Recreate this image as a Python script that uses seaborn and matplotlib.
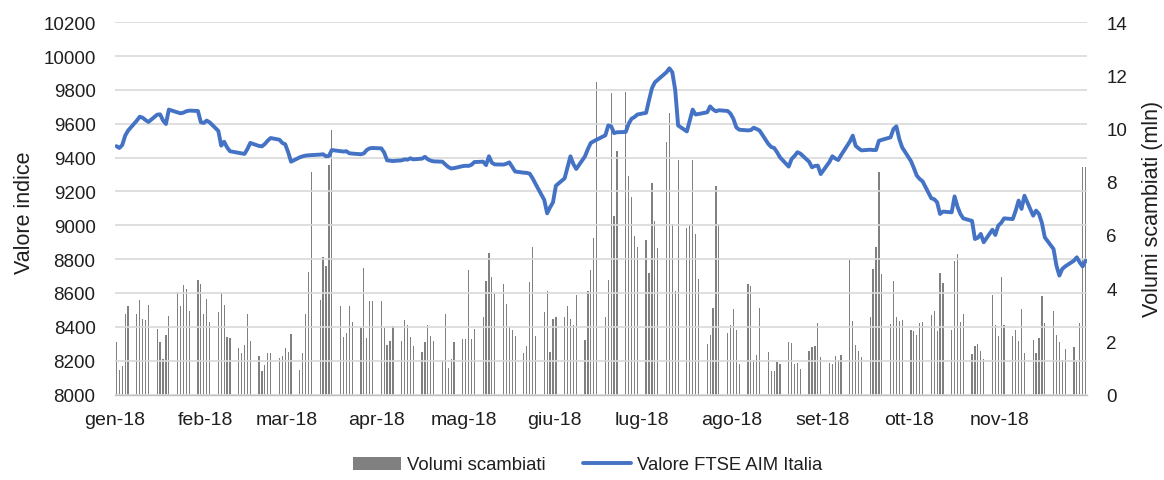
import numpy as np
import pandas as pd
import matplotlib
matplotlib.use("Agg")
import matplotlib.pyplot as plt
import matplotlib.dates as mdates
from matplotlib.patches import Patch
from matplotlib.lines import Line2D
import seaborn as sns

# ---------------- data ----------------
month_labels = ["gen-18", "feb-18", "mar-18", "apr-18", "mag-18", "giu-18",
                "lug-18", "ago-18", "set-18", "ott-18", "nov-18"]

# trading days (Mon-Fri) from 1 Jan to 30 Nov 2018
dates = pd.bdate_range("2018-01-01", "2018-11-30")

vol_jan = [1.96, 0.93, 1.06, 3.04, 3.34, 3.02, 3.54, 2.83, 2.79, 3.38, 2.46, 1.96,
           1.34, 2.24, 2.94, 3.87, 3.32, 4.13, 3.96, 3.13, 4.32, 4.14, 3.02]
vol_feb = [3.58, 2.73, 3.10, 3.80, 3.37, 2.18, 2.14, 1.74, 1.56, 1.86, 3.02, 2.00,
           1.46, 0.90, 1.11, 1.56, 1.57, 1.36, 1.45, 1.74]
vol_mar = [1.61, 2.26, 0.93, 1.55, 3.02, 4.59, 8.36, 3.57, 5.17, 4.85, 8.64, 9.96,
           3.33, 2.18, 2.31, 3.34, 2.74, 2.50, 4.75, 2.13, 3.50, 3.50]
vol_apr = [3.50, 2.50, 1.86, 2.01, 2.58, 2.01, 2.80, 2.61, 2.18, 1.81, 1.59, 1.99,
           2.61, 2.19, 2.01, 1.27, 3.03, 1.00, 1.34, 1.96, 2.09]
vol_may = [2.09, 4.70, 2.07, 2.46, 2.90, 4.27, 5.31, 4.42, 3.79, 4.14, 3.39, 2.53,
           2.44, 2.19, 1.55, 1.84, 4.22, 5.54, 2.21, 3.09, 3.89, 1.59, 2.84]
vol_jun = [2.93, 2.90, 3.34, 2.84, 2.61, 3.74, 2.05, 3.89, 4.70, 5.87, 11.77, 2.90,
           4.31, 11.34, 6.70, 9.16, 11.38, 8.23, 7.43, 5.96, 5.55]
vol_jul = [5.81, 4.57, 7.97, 6.53, 5.52, 9.48, 10.57, 6.41, 3.89, 8.82, 6.26, 6.36,
           8.82, 6.02, 4.34, 1.91, 2.24, 3.25, 7.85, 6.40, 2.31, 2.61]
vol_aug = [3.22, 2.43, 1.15, 4.14, 4.09, 1.30, 1.49, 3.25, 1.61, 0.90, 0.90, 1.21,
           1.13, 1.99, 1.94, 1.13, 1.18, 0.96, 1.65, 1.77, 1.81, 2.69, 1.42]
vol_sep = [1.18, 1.15, 1.46, 1.31, 1.49, 5.07, 2.76, 1.86, 1.64, 1.41, 2.91, 4.72,
           5.54, 8.38, 4.54, 2.65, 4.28, 2.91, 2.76, 2.80]
vol_oct = [2.43, 2.40, 2.24, 2.69, 2.71, 2.99, 3.13, 2.39, 4.57, 4.18, 2.43, 5.01,
           5.28, 2.73, 3.02, 1.52, 1.84, 1.89, 1.62, 1.34, 3.75, 2.61, 2.21]
vol_nov = [4.42, 2.61, 2.21, 2.44, 2.00, 3.23, 1.55, 2.06, 1.55, 2.11, 3.72, 2.69,
           3.13, 2.25, 1.96, 1.29, 1.70, 1.77, 1.21, 2.70, 8.56, 8.56]

idx_jan = [9468, 9457, 9475, 9530, 9560, 9619, 9642, 9636, 9622, 9611, 9654, 9656,
           9620, 9599, 9684, 9668, 9662, 9666, 9674, 9678, 9676, 9609, 9605]
idx_feb = [9619, 9609, 9558, 9471, 9494, 9461, 9438, 9428, 9424, 9422, 9451, 9487,
           9469, 9467, 9481, 9501, 9516, 9506, 9487, 9479]
idx_mar = [9432, 9376, 9402, 9408, 9412, 9414, 9415, 9418, 9420, 9408, 9410, 9445,
           9438, 9436, 9438, 9426, 9424, 9420, 9425, 9445, 9455, 9457]
idx_apr = [9455, 9430, 9384, 9382, 9380, 9384, 9390, 9388, 9396, 9390, 9394, 9405,
           9390, 9382, 9378, 9376, 9360, 9345, 9336, 9338, 9350]
idx_may = [9352, 9351, 9358, 9374, 9376, 9356, 9408, 9370, 9360, 9359, 9364, 9372,
           9345, 9318, 9311, 9310, 9305, 9278, 9245, 9150, 9071, 9106, 9136]
idx_jun = [9234, 9278, 9343, 9408, 9362, 9333, 9408, 9451, 9487, 9497, 9506, 9532,
           9590, 9585, 9545, 9550, 9552, 9600, 9630, 9640, 9655]
idx_jul = [9665, 9740, 9810, 9845, 9860, 9905, 9928, 9905, 9800, 9590, 9555, 9620,
           9684, 9655, 9658, 9668, 9703, 9685, 9674, 9680, 9676, 9660]
idx_aug = [9629, 9579, 9565, 9561, 9563, 9577, 9569, 9560, 9481, 9463, 9457, 9432,
           9402, 9347, 9392, 9410, 9432, 9424, 9376, 9343, 9351, 9353, 9303]
idx_sep = [9375, 9408, 9395, 9386, 9415, 9495, 9530, 9470, 9455, 9443, 9447, 9445,
           9445, 9500, 9505, 9520, 9569, 9585, 9510, 9460]
idx_oct = [9380, 9339, 9294, 9274, 9260, 9160, 9154, 9136, 9067, 9081, 9077, 9171,
           9110, 9067, 9041, 9026, 8919, 8927, 8949, 8900, 8974, 8943, 8998]
idx_nov = [9014, 9041, 9037, 9087, 9146, 9097, 9175, 9057, 9087, 9067, 9014, 8929,
           8860, 8762, 8703, 8742, 8757, 8791, 8811, 8781, 8757, 8791]

volumes = (vol_jan + vol_feb + vol_mar + vol_apr + vol_may + vol_jun + vol_jul +
           vol_aug + vol_sep + vol_oct + vol_nov)
index_values = (idx_jan + idx_feb + idx_mar + idx_apr + idx_may + idx_jun + idx_jul +
                idx_aug + idx_sep + idx_oct + idx_nov)

# Excel date axis draws each day in the middle of its slot
xpos = mdates.date2num(dates) + 0.5
df = pd.DataFrame({"x": xpos, "vol": volumes, "idx": index_values})

# ---------------- styling ----------------
sns.set_theme(style="white")
plt.rcParams["font.family"] = ["Liberation Sans", "DejaVu Sans"]
TXT = "#1f1f1f"
BAR = "#808080"
LINE = "#4472C4"
GRID = "#d9d9d9"

fig = plt.figure(figsize=(11.64, 4.81), dpi=100)
ax_bar = fig.add_axes([115 / 1164, 85.5 / 481, 972 / 1164, 372.2 / 481])
ax_line = ax_bar.twinx()

sns.barplot(data=df, x="x", y="vol", native_scale=True, orient="x", width=0.42,
            color=BAR, saturation=1, errorbar=None, linewidth=0, ax=ax_bar)
sns.lineplot(data=df, x="x", y="idx", color=LINE, linewidth=2.8, legend=False,
             ax=ax_line)

# axes ranges / ticks
month_starts = mdates.date2num(pd.date_range("2018-01-01", "2018-12-01", freq="MS"))
ax_bar.set_xlim(month_starts[0], month_starts[-1])
ax_bar.set_xticks(month_starts, month_labels + [""])
ax_bar.set_ylim(0, 14)
ax_bar.set_yticks(np.arange(0, 15, 2))
ax_line.set_ylim(8000, 10200)
ax_line.set_yticks(np.arange(8000, 10201, 200))

# sides: index on the left, volumes on the right
ax_line.yaxis.tick_left()
ax_line.yaxis.set_label_position("left")
ax_bar.yaxis.tick_right()
ax_bar.yaxis.set_label_position("right")

ax_line.yaxis.grid(True, color=GRID, linewidth=1.2)
ax_line.set_axisbelow(True)
ax_bar.grid(False)

for s in ax_bar.spines.values():
    s.set_visible(False)
for s in ax_line.spines.values():
    s.set_visible(False)
ax_bar.spines["bottom"].set_visible(True)
ax_bar.spines["bottom"].set_color("#bfbfbf")
ax_bar.spines["bottom"].set_linewidth(1.0)

ax_bar.tick_params(axis="x", length=5, width=1, color="#bfbfbf", pad=7,
                   labelsize=14, labelcolor=TXT)
ax_bar.tick_params(axis="y", length=0, pad=14, labelsize=13.5, labelcolor=TXT)
ax_line.tick_params(axis="y", length=0, pad=14, labelsize=13.5, labelcolor=TXT)

ax_bar.set_xlabel("")
ax_line.set_xlabel("")
ax_line.set_ylabel("Valore indice", fontsize=15.5, color=TXT)
ax_bar.set_ylabel("Volumi scambiati (mln)", fontsize=15.5, color=TXT)
ax_line.yaxis.set_label_coords((35 - 115) / 972, (395.5 - 212.5) / 372.2)
ax_bar.yaxis.set_label_coords((1142 - 115) / 972, (395.5 - 209) / 372.2)

handles = [Patch(facecolor=BAR, edgecolor="none", label="Volumi scambiati"),
           Line2D([], [], color=LINE, linewidth=2.8, label="Valore FTSE AIM Italia")]
fig.legend(handles=handles, loc="center", bbox_to_anchor=(0.505, 1 - 466 / 481),
           ncol=2, frameon=False, fontsize=13.3, handlelength=2.6,
           handletextpad=0.35, columnspacing=2.0, labelcolor=TXT)

fig.savefig("out.png", dpi=100)
